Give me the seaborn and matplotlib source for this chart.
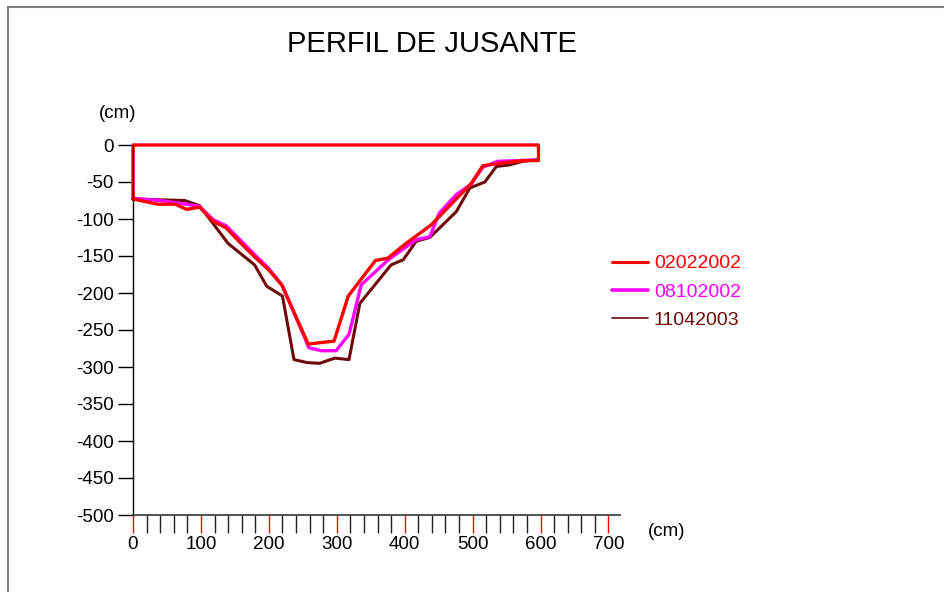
import numpy as np
import pandas as pd
import seaborn as sns
import matplotlib.pyplot as plt
from matplotlib.lines import Line2D
from matplotlib.patches import Rectangle
from matplotlib.ticker import MultipleLocator

# perfil 02022002 (fechado pela linha de superficie)
x_0202 = [0, 37, 62, 79, 98, 118, 137, 158, 181, 199, 219, 258, 296, 317, 357, 375,
          402, 439, 498, 515, 537, 574, 597, 597, 0, 0]
y_0202 = [-73, -80, -80, -87, -84, -103, -112, -132, -153, -168, -189, -269, -265, -204, -156, -153,
          -133, -108, -52, -28, -25, -21, -21, 0, 0, -73]

# perfil 08102002
x_0810 = [0, 40, 78, 98, 118, 137, 181, 199, 220, 259, 277, 299, 318, 336, 376,
          417, 437, 451, 476, 498, 515, 537, 574, 597]
y_0810 = [-72, -75, -80, -83, -101, -109, -150, -166, -190, -274, -278, -278, -256, -189, -155,
          -128, -124, -92, -67, -53, -30, -22, -21, -20]

# perfil 11042003
x_1104 = [0, 76, 98, 140, 179, 197, 220, 237, 256, 275, 297, 318, 334, 380, 398,
          417, 437, 476, 496, 518, 535, 554, 574, 597]
y_1104 = [-73, -75, -82, -133, -162, -191, -204, -290, -294, -295, -288, -290, -214, -162, -155,
          -130, -125, -90, -58, -50, -29, -27, -22, -20]

labels = ['02022002', '08102002', '11042003']
colors = ['#ff0000', '#ff00ff', '#6e0a0a']

sns.set_style('white')
plt.rcParams['font.family'] = ['Liberation Sans', 'DejaVu Sans']
plt.rcParams['axes.unicode_minus'] = False
plt.rcParams['text.color'] = 'black'
plt.rcParams['xtick.labelcolor'] = 'black'
plt.rcParams['ytick.labelcolor'] = 'black'

fig = plt.figure(figsize=(9.45, 5.92), dpi=100)
ax = fig.add_axes([133 / 945, 1 - 515 / 592, 487 / 945, 370 / 592])

df_a = pd.DataFrame({'x': x_0202, 'y': y_0202})
df_b = pd.DataFrame({'x': x_0810, 'y': y_0810})
df_c = pd.DataFrame({'x': x_1104, 'y': y_1104})

# ordem de desenho: castanho por baixo, vermelho por cima
sns.lineplot(data=df_c, x='x', y='y', sort=False, estimator=None, color=colors[2], lw=2.2, ax=ax)
sns.lineplot(data=df_b, x='x', y='y', sort=False, estimator=None, color=colors[1], lw=2.4, ax=ax)
sns.lineplot(data=df_a, x='x', y='y', sort=False, estimator=None, color=colors[0], lw=2.4, ax=ax)
for ln in ax.get_lines():
    ln.set_clip_on(False)

ax.set_xlim(0, 717)
ax.set_ylim(-500, 0)
ax.set_xlabel('')
ax.set_ylabel('')
ax.set_xticks(np.arange(0, 701, 100))
ax.xaxis.set_minor_locator(MultipleLocator(20))
ax.yaxis.set_major_locator(MultipleLocator(50))

ax.tick_params(axis='x', which='both', direction='out', length=13, width=1, pad=2,
               labelsize=13.5, bottom=True)
ax.tick_params(axis='x', which='major', color='#ff0000')
ax.tick_params(axis='x', which='minor', color='#222222')
ax.tick_params(axis='y', direction='out', length=11, width=1, pad=3, labelsize=13.5,
               left=True, color='black')
ax.xaxis.get_major_ticks()[0].tick1line.set_color('black')

for side in ['top', 'right']:
    ax.spines[side].set_visible(False)
ax.spines['left'].set_color('black')
ax.spines['bottom'].set_color('#444444')
ax.spines['left'].set_linewidth(1)
ax.spines['bottom'].set_linewidth(1.3)

fig.text(432 / 945, 1 - 44 / 592, 'PERFIL DE JUSANTE', fontsize=21, ha='center', va='center')
fig.text(118 / 945, 1 - 114 / 592, '(cm)', fontsize=13.5, ha='center', va='center')
fig.text(667 / 945, 1 - 531 / 592, '(cm)', fontsize=13.5, ha='center', va='center')

handles = [Line2D([], [], color=colors[0], lw=2.2),
           Line2D([], [], color=colors[1], lw=2.6),
           Line2D([], [], color=colors[2], lw=1.2)]
leg = fig.legend(handles, labels, loc='center left', bbox_to_anchor=(612 / 945, 1 - 292 / 592),
                 frameon=False, fontsize=14, handlelength=1.85, handletextpad=0.3,
                 labelspacing=0.55, borderpad=0, borderaxespad=0)
for txt, c in zip(leg.get_texts(), colors):
    txt.set_color(c)

# moldura cinza da figura
fig.patches.append(Rectangle((8 / 945, -0.1), 1.0, 1.1 - 7 / 592, transform=fig.transFigure,
                             fill=False, edgecolor='#808080', lw=1.5))

fig.savefig('out.png', dpi=100)
